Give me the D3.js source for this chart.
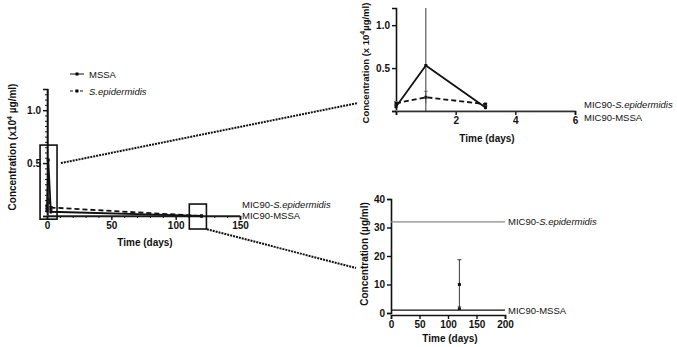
<!DOCTYPE html>
<html>
<head>
<meta charset="utf-8">
<script src="https://cdn.jsdelivr.net/npm/d3@7"></script>
<style>
  body { margin: 0; background: #fff; }
  svg { font-family: "Liberation Sans", Arial, sans-serif; }
  .tick text { font-weight: bold; font-size: 10px; fill: #111; }
  .axis path, .axis line { stroke: #111; }
  .title { font-weight: bold; font-size: 10px; fill: #111; }
  .mic { font-size: 9.5px; fill: #111; }
</style>
</head>
<body>
<svg id="chart"></svg>
<script>
// Data (concentration x10^4 µg/ml for days 0-3, µg/ml at day 120)
const days = [0, 1, 3, 120];
const mssa = [0.05, 0.53, 0.04, 0.001];
const mssaErr = [0.02, 0.75, 0.02, 0.00087];
const sepi = [0.09, 0.16, 0.08, 0.00015];
const sepiErr = [0.02, 0.07, 0.01, 0.00008];
const micSepi = 32;   // µg/ml
const micMssa = 1;    // µg/ml

const width = 677, height = 347;
const svg = d3.select("#chart").attr("width", width).attr("height", height);

// points as objects
const toPts = (vals, errs) => days.map((d, i) => ({ day: d, v: vals[i], e: errs[i] }));
const mssaPts = toPts(mssa, mssaErr);
const sepiPts = toPts(sepi, sepiErr);

function axes(g, x, y, opt) {
    const xa = g.append("g").attr("class", "axis")
        .attr("transform", `translate(0,${y(0) + (opt.xOff || 0)})`)
        .call(d3.axisBottom(x).tickValues(opt.xTicks).tickSize(4).tickPadding(2).tickFormat(opt.xFmt || d3.format("d")));
    xa.select(".domain").attr("stroke-width", 1.6);
    xa.selectAll(".tick line").attr("stroke-width", 1.4);
    if (opt.xMinor) {
        g.append("g").attr("class", "axis")
            .attr("transform", `translate(0,${y(0)})`)
            .call(d3.axisBottom(x).tickValues(opt.xMinor).tickSize(2).tickFormat(""))
            .select(".domain").remove();
    }
    const ya = g.append("g").attr("class", "axis")
        .attr("transform", `translate(${x(0)},0)`)
        .call(d3.axisLeft(y).tickValues(opt.yTicks).tickSize(4).tickPadding(2).tickFormat(opt.yFmt));
    ya.select(".domain").attr("stroke-width", 1.6);
    ya.selectAll(".tick line").attr("stroke-width", 1.4);
    if (opt.yMinor) {
        g.append("g").attr("class", "axis")
            .attr("transform", `translate(${x(0)},0)`)
            .call(d3.axisLeft(y).tickValues(opt.yMinor).tickSize(2).tickFormat(""))
            .select(".domain").remove();
    }
}

function series(g, x, y, pts, dash, yMax) {
    const line = d3.line().x(d => x(d.day)).y(d => y(d.v));
    // error bars
    g.selectAll(null).data(pts).enter().append("line")
        .attr("x1", d => x(d.day)).attr("x2", d => x(d.day))
        .attr("y1", d => y(Math.min(yMax, d.v + d.e)))
        .attr("y2", d => y(Math.max(0, d.v - d.e)))
        .attr("stroke", dash ? "#888" : "#222").attr("stroke-width", 0.9);
    g.selectAll(null).data(pts.filter(d => d.v + d.e < yMax)).enter().append("line")
        .attr("x1", d => x(d.day) - 2).attr("x2", d => x(d.day) + 2)
        .attr("y1", d => y(d.v + d.e)).attr("y2", d => y(d.v + d.e))
        .attr("stroke", dash ? "#888" : "#222").attr("stroke-width", 0.9);
    g.append("path").datum(pts).attr("d", line)
        .attr("fill", "none").attr("stroke", "#111").attr("stroke-width", 1.8)
        .attr("stroke-dasharray", dash ? "5,3" : null);
    g.selectAll(null).data(pts).enter().append("rect")
        .attr("x", d => x(d.day) - 1.5).attr("y", d => y(d.v) - 1.5)
        .attr("width", 3).attr("height", 3).attr("fill", "#111");
}

// ---------- Main panel ----------
const x1 = d3.scaleLinear().domain([0, 150]).range([47, 240]);
const y1 = d3.scaleLinear().domain([0, 1.2]).range([216, 89]);
const main = svg.append("g");
axes(main, x1, y1, {
    xTicks: [0, 50, 100, 150], xMinor: d3.range(10, 150, 10),
    yTicks: [0, 0.5, 1.0], yMinor: d3.range(0.05, 1.2, 0.05),
    yFmt: d => d === 0 ? "" : d3.format(".1f")(d)
});
main.append("line").attr("x1", x1(0)).attr("x2", x1(150))
    .attr("y1", y1(micSepi / 1e4)).attr("y2", y1(micSepi / 1e4)).attr("stroke", "#999");
main.append("line").attr("x1", x1(0)).attr("x2", x1(150))
    .attr("y1", y1(micMssa / 1e4)).attr("y2", y1(micMssa / 1e4)).attr("stroke", "#111");
series(main, x1, y1, sepiPts, true, 1.2);
series(main, x1, y1, mssaPts, false, 1.2);
main.append("text").attr("class", "mic").attr("x", x1(150) + 2).attr("y", y1(0) - 8)
    .html('MIC90-<tspan font-style="italic">S.epidermidis</tspan>');
main.append("text").attr("class", "mic").attr("x", x1(150) + 2).attr("y", y1(0) + 3)
    .text("MIC90-MSSA");
main.append("text").attr("class", "title").attr("x", 145).attr("y", 246)
    .attr("text-anchor", "middle").text("Time (days)");
main.append("text").attr("class", "title")
    .attr("transform", "translate(16,147) rotate(-90)").attr("text-anchor", "middle")
    .html('Concentration (x10<tspan font-size="7" dy="-4">4</tspan><tspan dy="4"> µg/ml)</tspan>');

// legend
const leg = main.append("g").attr("transform", "translate(70,74)");
leg.append("line").attr("x1", 0).attr("x2", 14).attr("stroke", "#111").attr("stroke-width", 1);
leg.append("rect").attr("x", 5.5).attr("y", -1.5).attr("width", 3).attr("height", 3);
leg.append("text").attr("class", "mic").attr("x", 19).attr("y", 4).text("MSSA");
leg.append("line").attr("x1", 0).attr("x2", 14).attr("y1", 17).attr("y2", 17)
    .attr("stroke", "#111").attr("stroke-dasharray", "3,2");
leg.append("rect").attr("x", 5.5).attr("y", 15.5).attr("width", 3).attr("height", 3);
leg.append("text").attr("class", "mic").attr("x", 19).attr("y", 21)
    .attr("font-style", "italic").text("S.epidermidis");

// zoom boxes
const box = (x0, x1v, ya, yb) => main.append("rect")
    .attr("x", x1(x0)).attr("y", y1(ya))
    .attr("width", x1(x1v) - x1(x0)).attr("height", y1(yb) - y1(ya))
    .attr("fill", "none").attr("stroke", "#111").attr("stroke-width", 1.6);
box(-5.4, 7.8, 0.67, -0.03);
box(110.6, 123.9, 0.113, -0.123);

// ---------- Inset 1 (days 0-6) ----------
const x2 = d3.scaleLinear().domain([0, 6]).range([396, 575]);
const y2 = d3.scaleLinear().domain([0, 1.2]).range([111, 8]);
const in1 = svg.append("g");
axes(in1, x2, y2, {
    xTicks: [0, 2, 4, 6], xFmt: d => d === 0 ? "" : d,
    yTicks: [0, 0.5, 1.0], yFmt: d => d === 0 ? "" : d3.format(".1f")(d)
});
in1.append("line").attr("x1", x2(0)).attr("x2", x2(6))
    .attr("y1", y2(micSepi / 1e4)).attr("y2", y2(micSepi / 1e4)).attr("stroke", "#999");
series(in1, x2, y2, sepiPts.slice(0, 3), true, 1.2);
series(in1, x2, y2, mssaPts.slice(0, 3), false, 1.2);
in1.append("text").attr("class", "mic").attr("x", 584).attr("y", 108)
    .html('MIC90-<tspan font-style="italic">S.epidermidis</tspan>');
in1.append("text").attr("class", "mic").attr("x", 584).attr("y", 121).text("MIC90-MSSA");
in1.append("text").attr("class", "title").attr("x", 487).attr("y", 142)
    .attr("text-anchor", "middle").text("Time (days)");
in1.append("text").attr("class", "title").attr("font-size", 9.5).style("font-size", "9.5px")
    .attr("transform", "translate(369,63) rotate(-90)").attr("text-anchor", "middle")
    .html('Concentration (x 10<tspan font-size="7" dy="-4">4</tspan><tspan dy="4">µg/ml)</tspan>');

// ---------- Inset 2 (µg/ml) ----------
const x3 = d3.scaleLinear().domain([0, 200]).range([391, 505]);
const y3 = d3.scaleLinear().domain([0, 40]).range([313, 199]);
const in2 = svg.append("g");
axes(in2, x3, y3, {
    xTicks: [0, 50, 100, 150, 200], xOff: 2,
    yTicks: [0, 10, 20, 30, 40], yFmt: d3.format("d")
});
in2.append("line").attr("x1", x3(0)).attr("x2", x3(200))
    .attr("y1", y3(micSepi)).attr("y2", y3(micSepi)).attr("stroke", "#888").attr("stroke-width", 1.2);
in2.append("line").attr("x1", x3(0)).attr("x2", x3(200))
    .attr("y1", y3(micMssa)).attr("y2", y3(micMssa)).attr("stroke", "#111").attr("stroke-width", 1.2);
const scale4 = d => ({ day: d.day, v: d.v * 1e4, e: d.e * 1e4 });
series(in2, x3, y3, [sepiPts[3]].map(scale4), true, 40);
series(in2, x3, y3, [mssaPts[3]].map(scale4), false, 40);
in2.append("text").attr("class", "mic").attr("x", 508).attr("y", y3(micSepi) + 3.5)
    .html('MIC90-<tspan font-style="italic">S.epidermidis</tspan>');
in2.append("text").attr("class", "mic").attr("x", 508).attr("y", y3(micMssa) + 3.5).text("MIC90-MSSA");
in2.append("text").attr("class", "title").attr("x", 450).attr("y", 342)
    .attr("text-anchor", "middle").text("Time (days)");
in2.append("text").attr("class", "title")
    .attr("transform", "translate(368,254) rotate(-90)").attr("text-anchor", "middle")
    .text("Concentration (µg/ml)");

// ---------- connector lines ----------
const conn = [[x1(10.8), y1(0.5), 358, 103], [x1(124.3), y1(-0.125), 356, 268]];
svg.selectAll(".conn").data(conn).enter().append("line")
    .attr("x1", d => d[0]).attr("y1", d => d[1]).attr("x2", d => d[2]).attr("y2", d => d[3])
    .attr("stroke", "#111").attr("stroke-width", 2).attr("stroke-dasharray", "2,1");
</script>
</body>
</html>
